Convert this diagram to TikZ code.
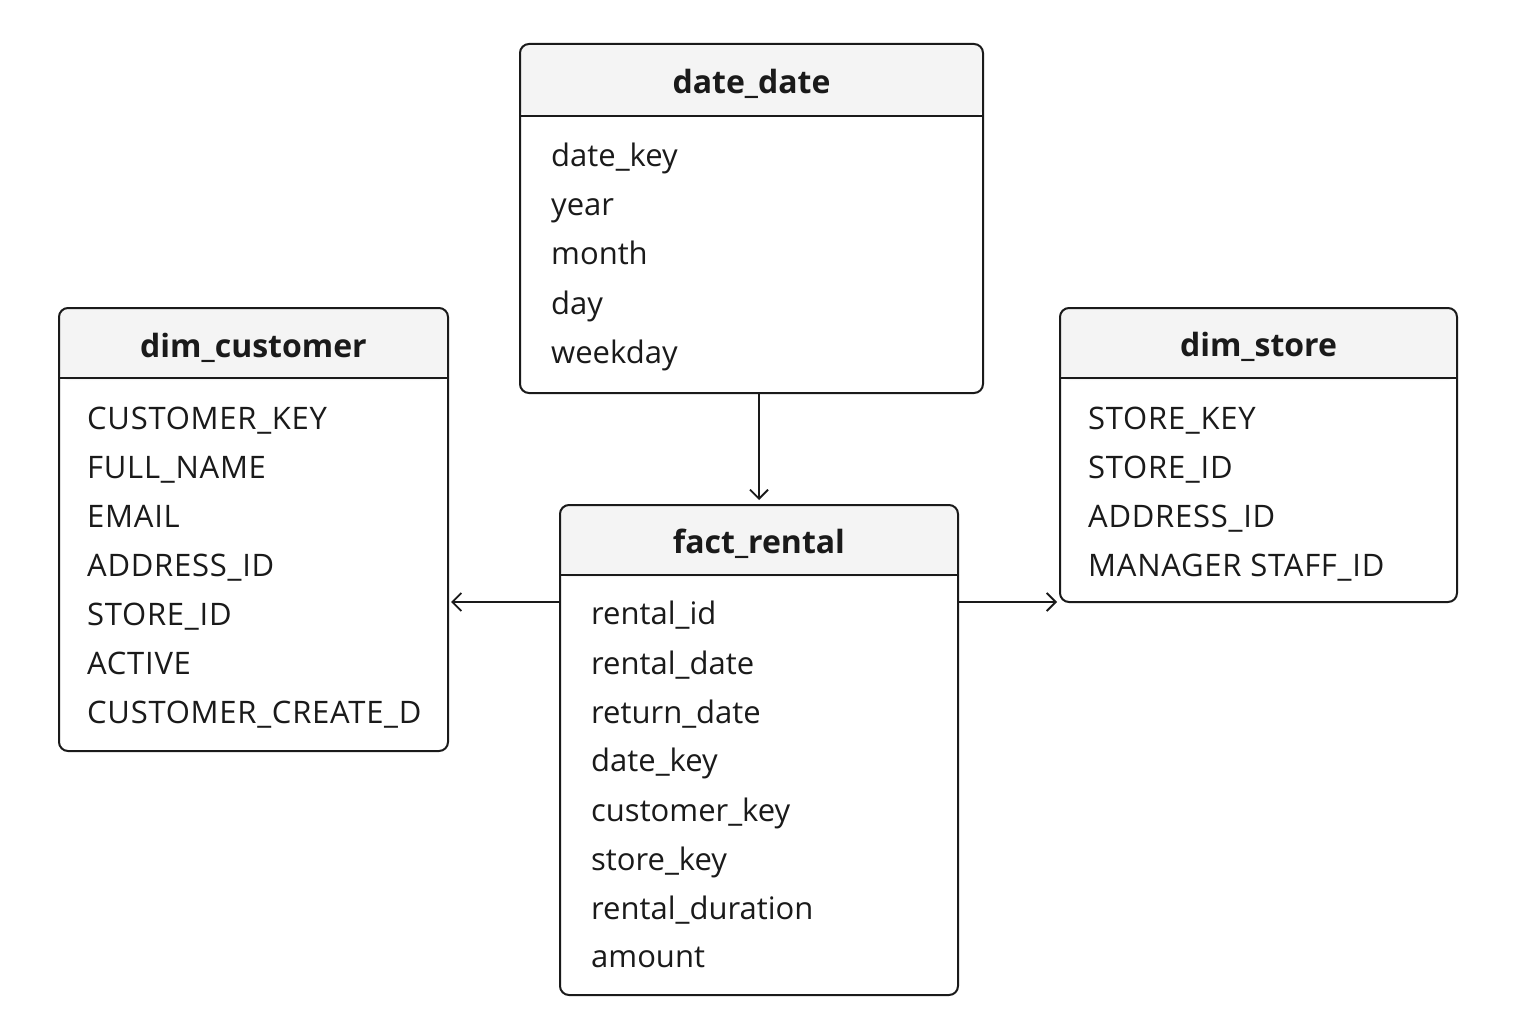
\documentclass[tikz,border=0pt]{standalone}
\usepackage{fontspec}
\setmainfont{Open Sans}
\usetikzlibrary{arrows.meta}
\definecolor{hdr}{HTML}{F4F4F4}
\definecolor{ink}{HTML}{1A1A1A}
\tikzset{
  tbl/.style={draw=ink, line width=2pt, rounded corners=9pt, fill=white, inner sep=0pt,
    path picture={\fill[hdr] (path picture bounding box.north west) rectangle ([yshift=-72pt]path picture bounding box.north east);}},
  ttl/.style={anchor=base, text=ink, font=\fontsize{32}{38}\selectfont\bfseries},
  fld/.style={anchor=base west, text=ink, inner sep=0pt, font=\fontsize{31}{37}\selectfont},
  fldu/.style={fld, font=\fontsize{31}{37}\selectfont\addfontfeature{LetterSpace=2.4}},
  link/.style={draw=ink, line width=1.8pt, -{Straight Barb[length=9pt,width=18pt,line width=1.8pt]}}
}
\begin{document}
\begin{tikzpicture}[x=1pt,y=-1pt]
\useasboundingbox (0,0) rectangle (1536,1024);
% date_date
\node[tbl, minimum width=463pt, minimum height=349pt] (dd) at (751.5,218.5) {};
\draw[ink, line width=1.6pt] ([yshift=-73pt]dd.north west) -- ([yshift=-73pt]dd.north east);
\node[ttl] (ddt) at (751.5,94) {date\_date};
\node[fld] (dd1) at (551,167) {date\_key};
\node[fld] (dd2) at (551,216) {year};
\node[fld] (dd3) at (551,265) {month};
\node[fld] (dd4) at (551,314) {day};
\node[fld] (dd5) at (551,363) {weekday};
% dim_customer
\node[tbl, minimum width=389pt, minimum height=443pt] (cu) at (253.5,529.5) {};
\draw[ink, line width=1.6pt] ([yshift=-71pt]cu.north west) -- ([yshift=-71pt]cu.north east);
\node[ttl] (cut) at (253.5,357) {dim\_customer};
\node[fldu] (cu1) at (87,429) {CUSTOMER\_KEY};
\node[fldu] (cu2) at (87,478) {FULL\_NAME};
\node[fldu] (cu3) at (87,527) {EMAIL};
\node[fldu] (cu4) at (87,576) {ADDRESS\_ID};
\node[fldu] (cu5) at (87,625) {STORE\_ID};
\node[fldu] (cu6) at (87,674) {ACTIVE};
\node[fldu] (cu7) at (87,723) {CUSTOMER\_CREATE\_D};
% dim_store
\node[tbl, minimum width=397pt, minimum height=294pt] (st) at (1258.5,455) {};
\draw[ink, line width=1.6pt] ([yshift=-71pt]st.north west) -- ([yshift=-71pt]st.north east);
\node[ttl] (stt) at (1258.5,356) {dim\_store};
\node[fldu] (st1) at (1088,429) {STORE\_KEY};
\node[fldu] (st2) at (1088,478) {STORE\_ID};
\node[fldu] (st3) at (1088,527) {ADDRESS\_ID};
\node[fldu] (st4) at (1088,576) {MANAGER STAFF\_ID};
% fact_rental
\node[tbl, minimum width=398pt, minimum height=490pt] (fr) at (759,750) {};
\draw[ink, line width=1.6pt] ([yshift=-71pt]fr.north west) -- ([yshift=-71pt]fr.north east);
\node[ttl] (frt) at (759,553) {fact\_rental};
\node[fld] (fr1) at (591,624) {rental\_id};
\node[fld] (fr2) at (591,674) {rental\_date};
\node[fld] (fr3) at (591,723) {return\_date};
\node[fld] (fr4) at (591,771) {date\_key};
\node[fld] (fr5) at (591,821) {customer\_key};
\node[fld] (fr6) at (591,870) {store\_key};
\node[fld] (fr7) at (591,919) {rental\_duration};
\node[fld] (fr8) at (591,967) {amount};
% connectors
\draw[link, shorten >=4pt] (fr.north |- dd.south) -- (fr.north);
\draw[link, shorten >=2pt] (fr.west |- 0,602) -- (cu.east |- 0,602);
\draw[link, shorten >=2pt] (fr.east |- 0,602) -- (st.west |- 0,602);
\end{tikzpicture}
\end{document}
